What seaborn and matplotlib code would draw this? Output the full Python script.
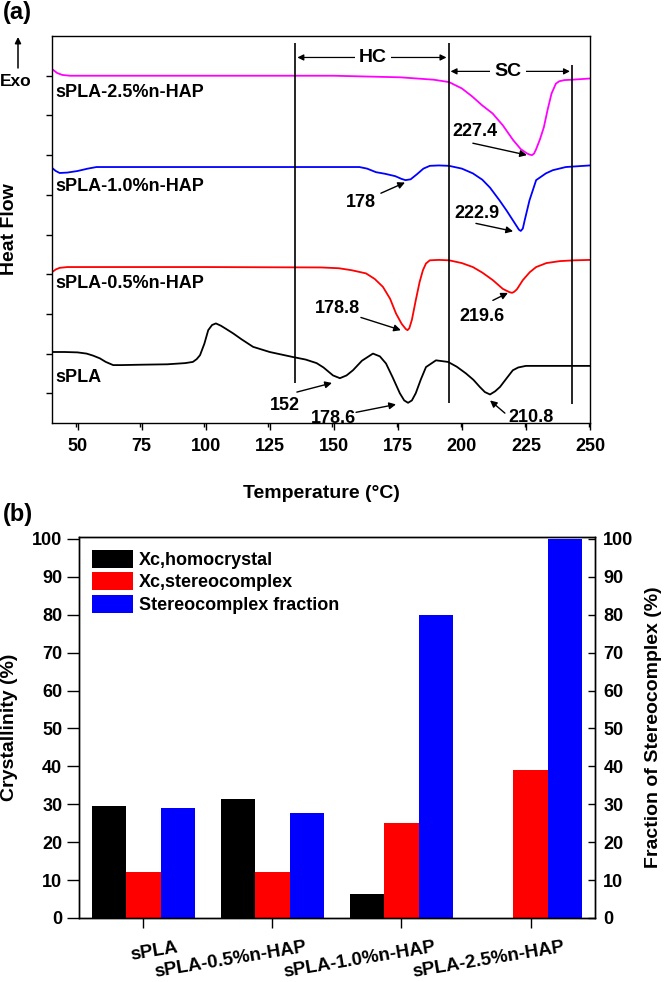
import pandas as pd
import matplotlib
matplotlib.use('Agg')
import matplotlib.pyplot as plt
import matplotlib.transforms as mtransforms
import seaborn as sns

# ---- (a) DSC curves: temperature (degC) vs heat flow (offset, arb. units) ----
t_25 = [40, 41, 42, 44, 47, 60, 100, 150, 176, 189, 195, 200, 204, 208, 212, 216,
        220, 223, 225.5, 226.6, 227.4, 228.2, 229, 230.5, 232, 233.5, 235, 236.7, 238,
        240, 243, 250]
hf_25 = [8.17, 8.12, 8.07, 8.02, 8.0, 8.0, 8.0, 8.0, 7.96, 7.9, 7.84, 7.68, 7.48, 7.25,
         7.05, 6.75, 6.38, 6.15, 6.04, 6.01, 6.0, 6.04, 6.15, 6.4, 6.7, 7.15, 7.55, 7.8,
         7.86, 7.89, 7.9, 7.93]

t_10 = [40, 41.5, 43, 46, 50, 54, 57.4, 80, 120, 160, 163, 166.5, 170, 174, 176.5, 178,
        180, 182.5, 185, 187.5, 191, 195, 200, 204.3, 208, 211, 214.7, 217.5, 219.9,
        221.5, 222.3, 223, 223.8, 224.5, 226.4, 229, 232.8, 235.5, 240.6, 250]
hf_10 = [5.68, 5.6, 5.55, 5.56, 5.6, 5.66, 5.70, 5.70, 5.70, 5.70, 5.66, 5.57, 5.53,
         5.47, 5.40, 5.37, 5.39, 5.52, 5.66, 5.73, 5.74, 5.73, 5.66, 5.54, 5.38, 5.18,
         4.86, 4.6, 4.36, 4.2, 4.12, 4.09, 4.15, 4.35, 4.86, 5.37, 5.54, 5.62, 5.70, 5.74]

t_05 = [40, 41.5, 43, 46, 50, 100, 145, 152, 157, 162.6, 166, 169.2, 172, 174.3, 176.5,
        178.1, 178.8, 179.5, 180.5, 182, 183.5, 184.8, 186, 187.5, 191, 195, 200, 204.3,
        208, 212.1, 216, 218.5, 219.6, 220.5, 221.5, 223.8, 226.5, 229, 233, 238.3,
        244, 250]
hf_05 = [3.05, 3.12, 3.16, 3.18, 3.18, 3.18, 3.17, 3.15, 3.1, 3.02, 2.88, 2.68, 2.38,
         2.01, 1.75, 1.62, 1.59, 1.64, 1.85, 2.34, 2.8, 3.1, 3.27, 3.35, 3.36, 3.35,
         3.28, 3.18, 3.04, 2.85, 2.63, 2.55, 2.53, 2.56, 2.62, 2.85, 3.05, 3.18, 3.28,
         3.33, 3.35, 3.36]

t_0 = [40, 45, 50, 53.5, 56, 58.7, 61, 63.9, 67, 75, 85, 92, 95, 96.5, 97.8, 99.5, 101,
       102.5, 104, 106, 108, 110.7, 114, 118.5, 125, 130, 134.3, 139, 143.3, 146, 149.7,
       152.4, 155, 157.5, 161, 165.3, 168, 170.4, 173, 175.8, 177.5, 179, 180.5, 182,
       184, 186, 189.9, 194.6, 198, 201.6, 204.5, 207, 209, 211, 213, 214.9, 217.5,
       219.9, 222, 225, 235, 250]
hf_0 = [1.04, 1.04, 1.03, 1.0, 0.95, 0.88, 0.79, 0.71, 0.71, 0.72, 0.73, 0.76, 0.79,
        0.86, 0.96, 1.25, 1.59, 1.72, 1.76, 1.7, 1.62, 1.51, 1.36, 1.17, 1.04, 0.97,
        0.91, 0.85, 0.76, 0.65, 0.45, 0.38, 0.45, 0.58, 0.82, 1.0, 0.93, 0.75, 0.4, 0.0,
        -0.18, -0.24, -0.18, 0.0, 0.35, 0.66, 0.83, 0.79, 0.67, 0.5, 0.34, 0.16, 0.03,
        -0.03, 0.05, 0.16, 0.38, 0.58, 0.65, 0.69, 0.69, 0.69]

curve_names = ['sPLA-2.5%n-HAP', 'sPLA-1.0%n-HAP', 'sPLA-0.5%n-HAP', 'sPLA']
curve_colors = ['#ff00ff', '#0000ff', '#ff0000', '#000000']
curve_label_y = [7.58, 5.21, 2.77, 0.4]

# peak labels: text, text position, arrow tail, arrow tip
peak_text = ['227.4', '178', '222.9', '178.8', '219.6', '152', '178.6', '210.8']
peak_text_xy = [(205.1, 6.6), (160.6, 4.81), (205.9, 4.53), (151.6, 2.14),
                (207.8, 1.94), (131.0, -0.3), (149.7, -0.63), (227.0, -0.6)]
peak_tail = [(204.3, 6.3), (168.4, 5.04), (205.5, 4.28), (160.6, 1.91),
             (212.1, 2.34), (135.6, 0.03), (158.7, -0.48), (216.8, -0.5)]
peak_tip = [(225.4, 6.0), (177.8, 5.31), (220.0, 4.08), (176.2, 1.59),
            (218.0, 2.53), (149.3, 0.26), (174.3, -0.28), (211.0, -0.18)]

# region boundaries
vline_x = [135.0, 194.8, 243.0]
vline_lo = [0.25, -0.25, -0.27]
vline_hi = [8.82, 8.82, 8.26]

# ---- (b) crystallinity bars ----
samples = ['sPLA', 'sPLA-0.5%n-HAP', 'sPLA-1.0%n-HAP', 'sPLA-2.5%n-HAP']
xc_homo = [29.5, 31.4, 6.4, 0.0]
xc_sc = [12.2, 12.1, 25.0, 38.9]
sc_fraction = [29.1, 27.7, 80.0, 100.0]
series_names = ['Xc,homocrystal', 'Xc,stereocomplex', 'Stereocomplex fraction']
bar_colors = ['#000000', '#ff0000', '#0000ff']

sns.set_style('ticks', rc={'axes.edgecolor': 'black', 'xtick.color': 'black',
                           'ytick.color': 'black', 'text.color': 'black',
                           'axes.labelcolor': 'black'})
plt.rcParams['font.family'] = ['Liberation Sans', 'DejaVu Sans']
plt.rcParams['font.weight'] = 'bold'
plt.rcParams['axes.labelweight'] = 'bold'
plt.rcParams['axes.linewidth'] = 1.0

fig = plt.figure(figsize=(6.66, 9.82), dpi=100)

# ================= panel (a) =================
ax1 = fig.add_axes([0.078, 0.5692, 0.8078, 0.3941])
curves = [(t_25, hf_25), (t_10, hf_10), (t_05, hf_05), (t_0, hf_0)]
for (tt, hh), name, col, ly in zip(curves, curve_names, curve_colors, curve_label_y):
    sns.lineplot(x=tt, y=hh, color=col, lw=1.3, estimator=None, ax=ax1)
    ax1.text(41.2, ly, name, ha='left', va='center', fontsize=13)

for txt, xy, tail, tip in zip(peak_text, peak_text_xy, peak_tail, peak_tip):
    ax1.text(xy[0], xy[1], txt, ha='center', va='center', fontsize=13)
    ax1.annotate('', xy=tip, xytext=tail,
                 arrowprops=dict(arrowstyle='-|>', color='black', lw=1.0,
                                 mutation_scale=10, shrinkA=0, shrinkB=0))

ax1.vlines(vline_x, vline_lo, vline_hi, color='black', lw=1.2)

for x0, x1, yy, lab, xt in [(vline_x[0], vline_x[1], 8.46, 'HC', 165.3),
                             (vline_x[1], vline_x[2], 8.11, 'SC', 218.0)]:
    ax1.annotate('', xy=(x0 + 0.8, yy), xytext=(x1 - 0.8, yy),
                 arrowprops=dict(arrowstyle='<|-|>', color='black', lw=0.9,
                                 mutation_scale=9, shrinkA=0, shrinkB=0))
    ax1.text(xt, yy, lab, ha='center', va='center', fontsize=14, zorder=5,
             bbox=dict(fc='white', ec='none', pad=3))

ax1.set_xlim(40, 250)
ax1.set_ylim(-0.75, 9.0)
ax1.set_xticks(range(50, 251, 25))
ax1.set_xticks([x + 12.5 for x in range(37, 250, 25) if 40 < x + 12.5 < 250], minor=True)
ax1.set_yticks(range(0, 9))
ax1.set_yticklabels([])
ax1.tick_params(axis='x', which='major', direction='out', length=5, width=1,
                labelsize=13, pad=6)
ax1.tick_params(axis='x', which='minor', direction='out', length=3, width=1)
ax1.tick_params(axis='y', direction='out', length=4, width=1)
ax1.set_xlabel('Temperature (°C)', fontsize=14)
ax1.xaxis.set_label_coords(0.5, -0.16)
ax1.set_ylabel('Heat Flow', fontsize=14)
ax1.yaxis.set_label_coords(-0.063, 0.5)
for s in ax1.spines.values():
    s.set_visible(True)
    s.set_linewidth(1.0)

fig.text(16 / 666, 1 - 81 / 982, 'Exo', ha='center', va='center', fontsize=12.5)
ax1.annotate('', xy=(18 / 666, 1 - 37 / 982), xytext=(18 / 666, 1 - 68 / 982),
             xycoords='figure fraction', textcoords='figure fraction',
             annotation_clip=False,
             arrowprops=dict(arrowstyle='-|>', color='black', lw=1.1,
                             mutation_scale=9, shrinkA=0, shrinkB=0))
fig.text(17 / 666, 1 - 13 / 982, '(a)', ha='center', va='center', fontsize=17)

# ================= panel (b) =================
ax2 = fig.add_axes([0.1186, 0.0652, 0.7748, 0.388])
df = pd.DataFrame({
    'sample': samples * 3,
    'series': [series_names[0]] * 4 + [series_names[1]] * 4 + [series_names[2]] * 4,
    'value': xc_homo + xc_sc + sc_fraction,
})
sns.barplot(data=df, x='sample', y='value', hue='series', order=samples,
            hue_order=series_names, palette=bar_colors, saturation=1,
            errorbar=None, linewidth=0, ax=ax2)
ax2.set_ylim(0, 100.5)
ax2.set_yticks(range(0, 101, 10))
ax2.set_xlabel('')
ax2.set_ylabel('Crystallinity (%)', fontsize=14)
ax2.yaxis.set_label_coords(-0.118, 0.5)
ax2.tick_params(axis='y', direction='out', length=9, width=1, labelsize=13, pad=3)
ax2.tick_params(axis='x', direction='out', length=7, width=1, labelsize=13.5, pad=8)
for s in ax2.spines.values():
    s.set_visible(True)
    s.set_linewidth(1.0)

offset = mtransforms.ScaledTranslation(33 / 100, 0, fig.dpi_scale_trans)
for lbl in ax2.get_xticklabels():
    lbl.set_rotation(9.5)
    lbl.set_ha('right')
    lbl.set_va('top')
    lbl.set_rotation_mode('anchor')
    lbl.set_transform(lbl.get_transform() + offset)

handles, labels = ax2.get_legend_handles_labels()
ax2.legend(handles, labels, loc='upper left', frameon=False, fontsize=13,
           handlelength=2.3, handleheight=1.15, labelspacing=0.2,
           handletextpad=0.3, borderpad=0.2, borderaxespad=0.5)

ax3 = ax2.twinx()
ax3.set_ylim(0, 100.5)
ax3.set_yticks(range(0, 101, 10))
ax3.tick_params(axis='y', direction='in', length=5, width=1, labelsize=13, pad=6)
ax3.set_ylabel('Fraction of Stereocomplex (%)', fontsize=14)
ax3.yaxis.set_label_coords(1.097, 0.5)

fig.text(18 / 666, 1 - 514 / 982, '(b)', ha='center', va='center', fontsize=17)

fig.savefig('out.png', dpi=100)
